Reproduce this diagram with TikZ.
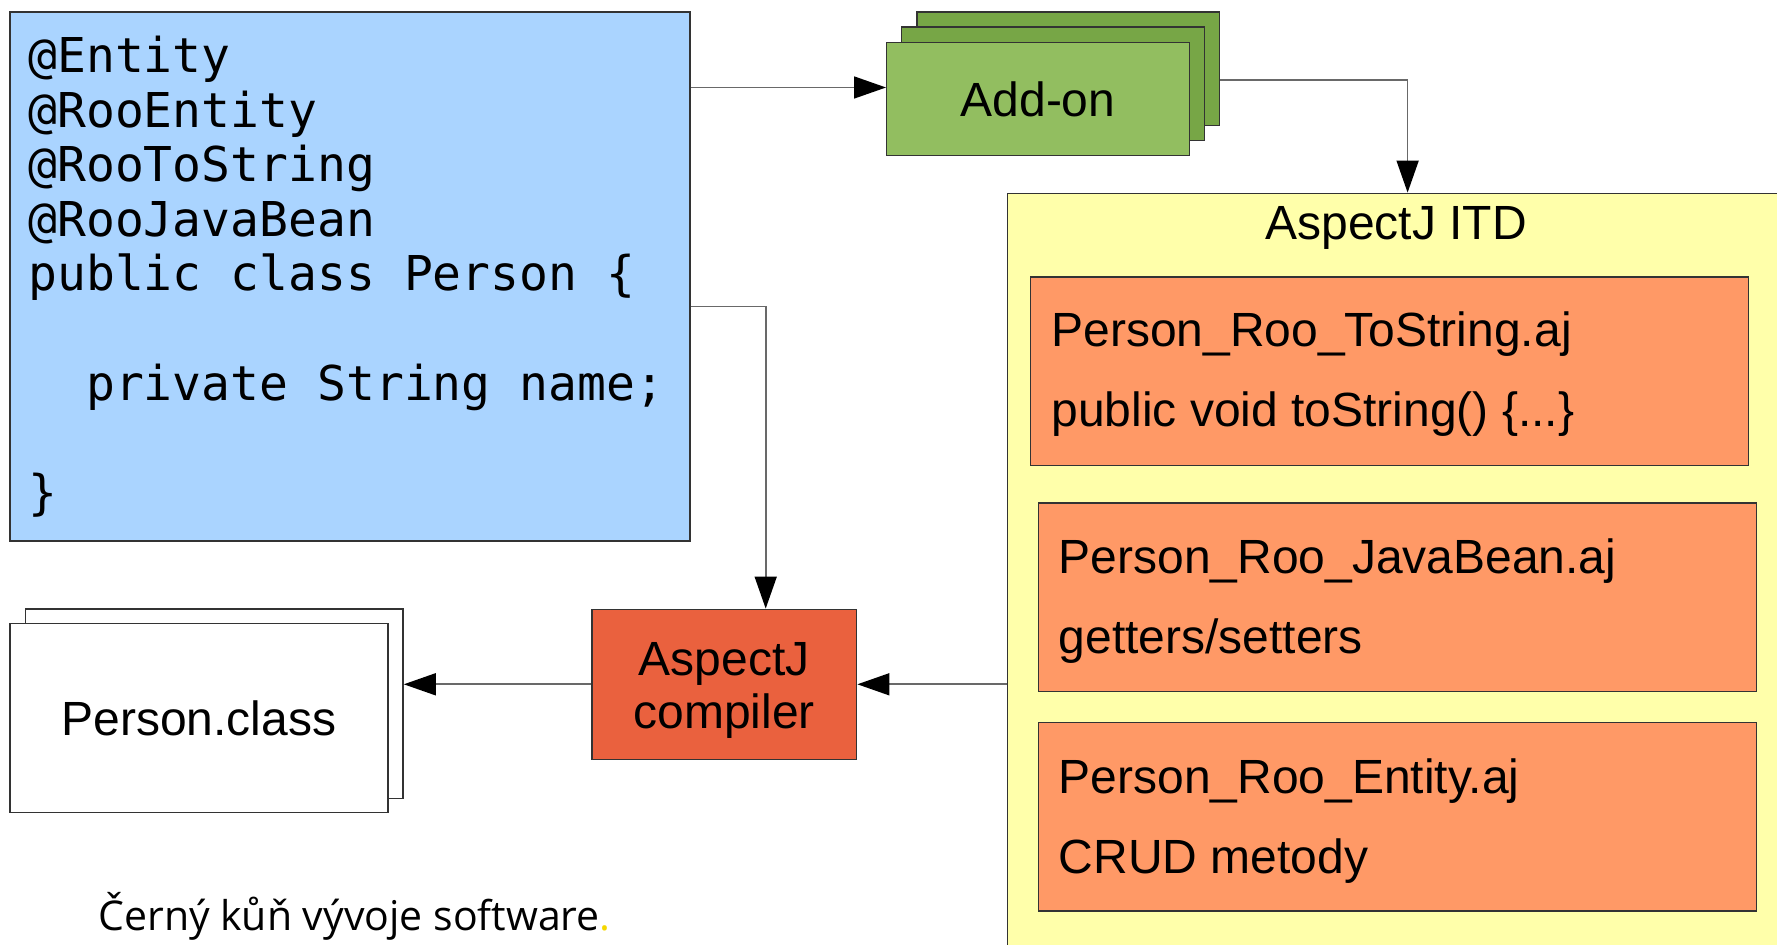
\documentclass[tikz,border=0pt]{standalone}
\usepackage{fontspec}
\setmainfont{Liberation Sans}
\setmonofont{DejaVu Sans Mono}
\newfontfamily\logofont{Open Sans}
\usetikzlibrary{arrows.meta}
\definecolor{srcblue}{RGB}{170,212,255}
\definecolor{addonfront}{RGB}{146,190,96}
\definecolor{addonback}{RGB}{119,166,70}
\definecolor{itdyellow}{RGB}{255,255,170}
\definecolor{ajorange}{RGB}{255,153,102}
\definecolor{ajcred}{RGB}{234,97,62}
\definecolor{boxline}{RGB}{51,51,51}
\definecolor{connline}{RGB}{105,105,105}
\definecolor{logoyellow}{RGB}{245,215,0}
\newcommand{\src}[1]{\texttt{#1}}
\newcommand{\lbl}{\fontsize{24pt}{26.2pt}\selectfont}

\begin{document}
\begin{tikzpicture}
                \tikzset{x=0.5pt, y=-0.5pt}
                \tikzstyle{box}=[rectangle, draw=boxline, line width=0.7pt, inner sep=0pt, font=\lbl]
                \tikzstyle{srcbox}=[box, fill=srcblue, minimum width=340pt, minimum height=264.5pt]
                \tikzstyle{addon}=[box, fill=addonfront, minimum width=151.3pt, minimum height=56.7pt]
                \tikzstyle{addonbk}=[addon, fill=addonback]
                \tikzstyle{itdbox}=[box, fill=itdyellow, minimum width=391.3pt, minimum height=383.4pt]
                \tikzstyle{ajfile}=[box, fill=ajorange, minimum width=359pt, minimum height=94.3pt]
                \tikzstyle{compiler}=[box, fill=ajcred, align=center, minimum width=132.4pt, minimum height=75pt]
                \tikzstyle{classf}=[box, fill=white, minimum width=188.9pt, minimum height=94.5pt]
                \tikzstyle{codeln}=[anchor=base west, inner sep=0pt, font=\fontsize{24pt}{24pt}\ttfamily]
                \tikzstyle{txt}=[anchor=base west, inner sep=0pt, font=\lbl]
                \tikzstyle{conn}=[draw=connline, line width=0.8pt, -{Triangle[length=16pt, width=11pt, color=black]}]

                \clip (0,0) rectangle (1777,945);

                % source class
                \draw (350.0, 276.5)    node[srcbox]    (code)  {};
                \draw (28.0, 72.5)      node[codeln]    (c1)    {\src{@Entity}};
                \draw (28.0, 127.1)     node[codeln]    (c2)    {\src{@RooEntity}};
                \draw (28.0, 181.7)     node[codeln]    (c3)    {\src{@RooToString}};
                \draw (28.0, 236.3)     node[codeln]    (c4)    {\src{@RooJavaBean}};
                \draw (28.0, 290.9)     node[codeln]    (c5)    {\src{public class Person \{}};
                \draw (85.8, 400.1)     node[codeln]    (c6)    {\src{private String name;}};
                \draw (28.0, 509.3)     node[codeln]    (c7)    {\src{\}}};

                % add-ons
                \draw (1068.3, 68.7)    node[addonbk]   (addon3) {};
                \draw (1053.0, 83.7)    node[addonbk]   (addon2) {};
                \draw (1038.0, 99.0)    node[addon]     (addon1) {Add-on};

                % AspectJ ITD
                \draw (1398.7, 576.7)   node[itdbox]    (itd)   {};
                \draw (1396.0, 239.3)   node[txt, anchor=base] (itdl) {AspectJ ITD};

                \draw (1389.5, 371.2)   node[ajfile]    (aj1)   {};
                \draw (1397.5, 597.3)   node[ajfile]    (aj2)   {};
                \draw (1397.5, 816.8)   node[ajfile]    (aj3)   {};

                \draw (1051.0, 346.7)   node[txt]       (aj1a)  {Person\_Roo\_ToString.aj};
                \draw (1051.0, 426.7)   node[txt]       (aj1b)  {public void toString() \{...\}};
                \draw (1058.3, 573.2)   node[txt]       (aj2a)  {Person\_Roo\_JavaBean.aj};
                \draw (1058.3, 653.2)   node[txt]       (aj2b)  {getters/setters};
                \draw (1058.3, 793.3)   node[txt]       (aj3a)  {Person\_Roo\_Entity.aj};
                \draw (1058.3, 873.3)   node[txt]       (aj3b)  {CRUD metody};

                % compiler and result
                \draw (724.3, 684.3)    node[compiler]  (comp)  {\rule{0pt}{22.5pt}AspectJ\\compiler};
                \draw (214.2, 703.7)    node[classf]    (cls2)  {};
                \draw (198.9, 718.2)    node[classf]    (cls1)  {Person.class};

                \draw (98.0, 930.0)     node[anchor=base west, inner sep=0pt, font=\logofont\fontsize{20.5pt}{20.5pt}\selectfont] (logo) {Černý kůň vývoje software\textcolor{logoyellow}{.}};

                \draw [conn]    ([yshift=94.5pt]code.east) -- ([yshift=94.5pt]code.east -| addon1.west);
                \draw [conn]    ([yshift=-5.65pt]addon3.east) -| ([xshift=4.45pt]itd.north);
                \draw [conn]    ([yshift=-15pt]code.east) -| ([xshift=20.7pt]comp.north);
                \draw [conn]    (itd.west |- comp.east) -- (comp.east);
                \draw [conn]    (comp.west) -- (comp.west -| cls2.east);
            \end{tikzpicture}
\end{document}
